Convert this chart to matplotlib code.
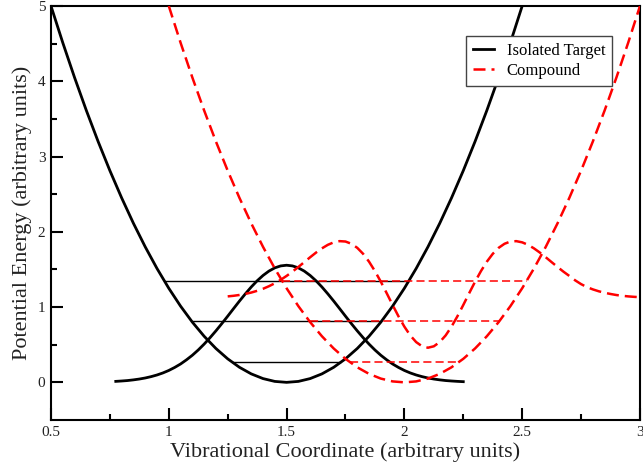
import numpy as np
import matplotlib
matplotlib.use('Agg')
import matplotlib.pyplot as plt

plt.rcParams['font.family'] = ['Liberation Serif', 'DejaVu Serif']

# potential wells
target_x = np.linspace(0.5, 2.5, 41)
target_pes = [5.0, 4.5125, 4.05, 3.6125, 3.2, 2.8125, 2.45, 2.1125, 1.8, 1.5125,
              1.25, 1.0125, 0.8, 0.6125, 0.45, 0.3125, 0.2, 0.1125, 0.05, 0.0125,
              0.0, 0.0125, 0.05, 0.1125, 0.2, 0.3125, 0.45, 0.6125, 0.8, 1.0125,
              1.25, 1.5125, 1.8, 2.1125, 2.45, 2.8125, 3.2, 3.6125, 4.05, 4.5125, 5.0]
compound_x = np.linspace(1.0, 3.0, 41)
compound_pes = [5.0, 4.5125, 4.05, 3.6125, 3.2, 2.8125, 2.45, 2.1125, 1.8, 1.5125,
                1.25, 1.0125, 0.8, 0.6125, 0.45, 0.3125, 0.2, 0.1125, 0.05, 0.0125,
                0.0, 0.0125, 0.05, 0.1125, 0.2, 0.3125, 0.45, 0.6125, 0.8, 1.0125,
                1.25, 1.5125, 1.8, 2.1125, 2.45, 2.8125, 3.2, 3.6125, 4.05, 4.5125, 5.0]

# wavefunctions
target_wf_x = np.linspace(0.775, 2.25, 60)
target_wf = [0.013, 0.018, 0.024, 0.033, 0.044, 0.058, 0.076, 0.098, 0.125, 0.158,
             0.198, 0.244, 0.299, 0.360, 0.430, 0.508, 0.593, 0.684, 0.780, 0.879,
             0.980, 1.080, 1.176, 1.267, 1.349, 1.420, 1.478, 1.521, 1.547, 1.556,
             1.547, 1.521, 1.478, 1.420, 1.349, 1.267, 1.176, 1.080, 0.980, 0.879,
             0.780, 0.684, 0.593, 0.508, 0.430, 0.360, 0.299, 0.244, 0.198, 0.158,
             0.125, 0.098, 0.076, 0.058, 0.044, 0.033, 0.024, 0.018, 0.013, 0.009]
compound_wf_x = np.linspace(1.25, 3.0, 71)
compound_wf = [1.142, 1.150, 1.161, 1.175, 1.193, 1.216, 1.243, 1.277, 1.316, 1.362,
               1.414, 1.471, 1.533, 1.597, 1.662, 1.724, 1.780, 1.827, 1.860, 1.876,
               1.871, 1.841, 1.787, 1.707, 1.603, 1.478, 1.337, 1.184, 1.028, 0.877,
               0.740, 0.623, 0.535, 0.479, 0.460,
               0.479, 0.535, 0.623, 0.740, 0.877, 1.028, 1.184, 1.337, 1.478, 1.603,
               1.707, 1.787, 1.841, 1.871, 1.876, 1.860, 1.827, 1.780, 1.724, 1.662,
               1.597, 1.533, 1.471, 1.414, 1.355, 1.305, 1.265, 1.235, 1.210, 1.190,
               1.174, 1.160, 1.150, 1.142, 1.136, 1.131]

# vibrational levels: energy, turning points
levels = [0.27, 0.81, 1.35]
target_left = [1.268, 1.098, 0.980]
target_right = [1.732, 1.902, 2.020]
compound_left = [1.768, 1.598, 1.480]
compound_right = [2.232, 2.402, 2.520]

fig = plt.figure(figsize=(6.43, 4.72), dpi=100)
ax = fig.add_axes([0.0793, 0.1102, 0.9160, 0.8771])

ax.hlines(levels, target_left, target_right, color='black', lw=1.0, zorder=2)
ax.plot(target_x, target_pes, color='black', lw=2.0, label='Isolated Target', zorder=3)
ax.plot(target_wf_x, target_wf, color='black', lw=2.0, zorder=3)

for e, a, b in zip(levels, compound_left, compound_right):
  ax.plot([a, b], [e, e], color='red', lw=1.1, dashes=(5.3, 2.7), zorder=4)
ax.plot(compound_x, compound_pes, color='red', lw=1.8, dashes=(4.8, 2.4),
        label='Compound', zorder=5)
ax.plot(compound_wf_x, compound_wf, color='red', lw=1.8, dashes=(4.8, 2.4), zorder=5)

ax.set_xlim(0.5, 3.0)
ax.set_ylim(-0.5, 5.0)
ax.set_xticks([0.5, 1, 1.5, 2, 2.5, 3])
ax.set_xticklabels(['0.5', '1', '1.5', '2', '2.5', '3'])
ax.set_xticks(np.arange(0.75, 3.0, 0.5), minor=True)
ax.set_yticks([0, 1, 2, 3, 4, 5])
ax.set_yticks([0.5, 1.5, 2.5, 3.5, 4.5], minor=True)

for s in ax.spines.values():
  s.set_linewidth(1.5)
ax.tick_params(which='both', direction='in', top=False, right=False, width=1.5,
               labelsize=11, labelcolor='#222222')
ax.tick_params(which='major', length=8.6, pad=4)
ax.tick_params(which='minor', length=4.3)

ax.set_xlabel('Vibrational Coordinate (arbitrary units)', fontsize=16, color='#222222', labelpad=3)
ax.set_ylabel('Potential Energy (arbitrary units)', fontsize=16, color='#222222', labelpad=4)

leg = ax.legend(loc='upper right', bbox_to_anchor=(0.9525, 0.9275), fontsize=12,
                fancybox=False, framealpha=1, edgecolor='#444444', borderaxespad=0,
                handlelength=1.3, handletextpad=0.75, borderpad=0.4, labelspacing=0.25)
leg.get_frame().set_linewidth(1.0)

fig.savefig('out.png', dpi=100)
